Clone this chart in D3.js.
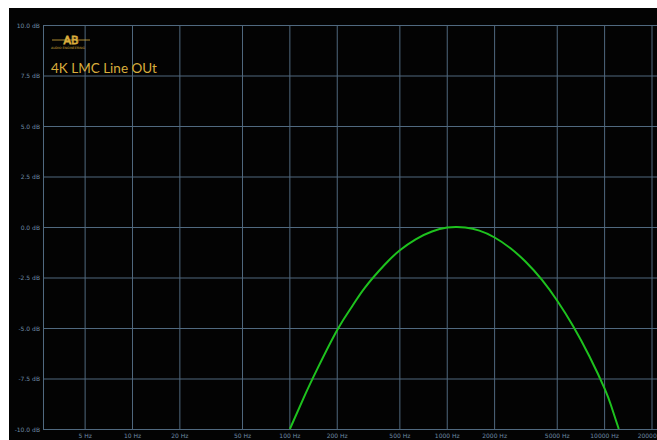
<!DOCTYPE html>
<html>
<head>
<meta charset="utf-8">
<script src="https://cdn.jsdelivr.net/npm/d3@7"></script>
<style>
  body { margin: 0; background: #fff; }
  svg { display: block; }
</style>
</head>
<body>
<div id="chart-area"></div>
<script>
// frequency response
var freqs = [100, 125, 150, 200, 250, 300, 400, 500, 630, 800, 1000, 1150, 1300,
             1600, 2000, 2500, 3150, 4000, 5000, 6300, 8000, 10000, 11000, 12300];
var levels = [-10.0, -8.3, -7.0, -5.1, -3.9, -3.0, -1.87, -1.15, -0.61, -0.22, -0.03, 0.0, -0.03,
              -0.18, -0.52, -1.03, -1.72, -2.62, -3.65, -4.9, -6.4, -8.0, -8.85, -10.0];

var xTicks = [5, 10, 20, 50, 100, 200, 500, 1000, 2000, 5000, 10000, 20000];
var yTicks = [-10, -7.5, -5, -2.5, 0, 2.5, 5, 7.5, 10];

var width = 657,
    height = 440;

var svg = d3.select("#chart-area").append("svg")
    .attr("width", width)
    .attr("height", height);

// black panel
svg.append("rect")
    .attr("x", 9).attr("y", 8)
    .attr("width", width - 9).attr("height", height - 8)
    .attr("fill", "#030303");

var x = d3.scaleLog().domain([2.7, 20000]).range([43, 652]);
var y = d3.scaleLinear().domain([-10, 10]).range([429, 25]);

var gridColor = "#50697f";
var labelColor = "#6f8ba6";

// grid
svg.append("g").selectAll("line.v")
    .data(xTicks)
    .enter().append("line")
    .attr("x1", function(d) { return x(d); })
    .attr("x2", function(d) { return x(d); })
    .attr("y1", y(10)).attr("y2", y(-10))
    .attr("stroke", gridColor).attr("stroke-width", 1);

svg.append("g").selectAll("line.h")
    .data(yTicks)
    .enter().append("line")
    .attr("x1", x(2.7)).attr("x2", width)
    .attr("y1", function(d) { return y(d) + 0.5; })
    .attr("y2", function(d) { return y(d) + 0.5; })
    .attr("stroke", gridColor).attr("stroke-width", 1);

// left axis line
svg.append("line")
    .attr("x1", x(2.7) + 0.5).attr("x2", x(2.7) + 0.5)
    .attr("y1", y(10)).attr("y2", y(-10))
    .attr("stroke", gridColor);

// y labels
svg.append("g").selectAll("text")
    .data(yTicks)
    .enter().append("text")
    .attr("x", 40)
    .attr("y", function(d) { return y(d) + 2.5; })
    .attr("text-anchor", "end")
    .attr("font-family", "DejaVu Sans, sans-serif")
    .attr("font-size", 6)
    .attr("fill", labelColor)
    .text(function(d) { return d.toFixed(1) + " dB"; });

// x labels
svg.append("g").selectAll("text")
    .data(xTicks)
    .enter().append("text")
    .attr("x", function(d) { return x(d); })
    .attr("y", 438)
    .attr("text-anchor", "middle")
    .attr("font-family", "DejaVu Sans, sans-serif")
    .attr("font-size", 6)
    .attr("fill", labelColor)
    .text(function(d) { return d + " Hz"; });

// curve
svg.append("clipPath").attr("id", "plotclip")
    .append("rect")
    .attr("x", 43).attr("y", 25)
    .attr("width", 609).attr("height", 405);

var line = d3.line()
    .x(function(d) { return x(d[0]); })
    .y(function(d) { return y(d[1]); })
    .curve(d3.curveNatural);

svg.append("path")
    .datum(d3.zip(freqs, levels))
    .attr("clip-path", "url(#plotclip)")
    .attr("d", line)
    .attr("fill", "none")
    .attr("stroke", "#1ec21e")
    .attr("stroke-width", 2);

// logo
var gold = "#d9ad3c";
var logo = svg.append("g");
logo.append("line")
    .attr("x1", 52).attr("x2", 90).attr("y1", 40).attr("y2", 40)
    .attr("stroke", gold).attr("stroke-width", 0.8);
logo.append("text")
    .attr("x", 71).attr("y", 44)
    .attr("text-anchor", "middle")
    .attr("font-family", "DejaVu Sans, sans-serif")
    .attr("font-size", 11)
    .attr("fill", "none")
    .attr("stroke", gold).attr("stroke-width", 0.9)
    .text("AB");
logo.append("text")
    .attr("x", 51).attr("y", 49)
    .attr("font-family", "DejaVu Sans, sans-serif")
    .attr("font-size", 3.2)
    .attr("fill", gold)
    .text("AUDIO ENGINEERING");

svg.append("text")
    .attr("x", 51).attr("y", 73)
    .attr("font-family", "Lato, sans-serif")
    .attr("font-size", 13.5)
    .attr("fill", gold)
    .text("4K LMC Line OUt");
</script>
</body>
</html>
